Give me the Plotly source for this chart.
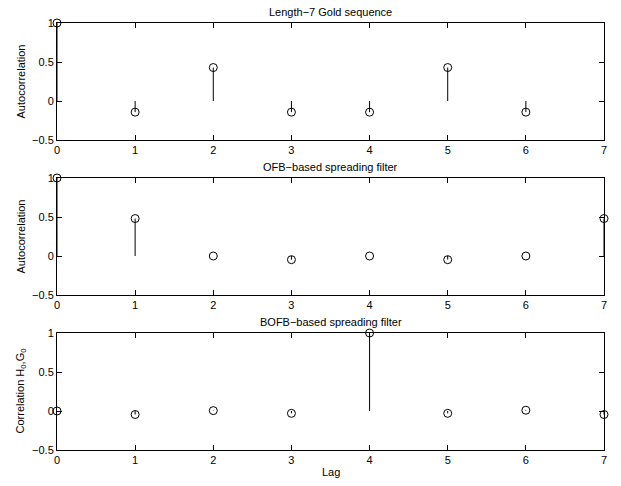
import plotly.graph_objects as go

lags = [0, 1, 2, 3, 4, 5, 6, 7]
gold_lags = [0, 1, 2, 3, 4, 5, 6]
gold_acf = [1.0, -0.143, 0.429, -0.143, -0.143, 0.429, -0.143]
ofb_acf = [1.0, 0.48, 0.0, -0.047, 0.0, -0.047, 0.0, 0.48]
bofb_xcorr = [0.0, -0.045, 0.005, -0.03, 1.0, -0.03, 0.01, -0.045]

titles = ["Length\u22127 Gold sequence", "OFB\u2212based spreading filter", "BOFB\u2212based spreading filter"]
ylabels = ["Autocorrelation", "Autocorrelation", "Correlation H<sub>0</sub>,G<sub>0</sub>"]
ytick_vals = [-0.5, 0, 0.5, 1]
ytick_text = ["\u22120.5", "0", "0.5", "1"]
xtick_vals = [0, 1, 2, 3, 4, 5, 6, 7]

W, H = 621, 486
x0px, x1px = 57, 604
rows_px = [(23, 140), (178, 295), (333, 450)]
FONT = "Liberation Sans, Arial, Helvetica, sans-serif"

series = [(gold_lags, gold_acf), (lags, ofb_acf), (lags, bofb_xcorr)]

fig = go.Figure()
layout = dict(width=W, height=H, margin=dict(l=0, r=0, t=0, b=0, autoexpand=False),
              paper_bgcolor="white", plot_bgcolor="white", showlegend=False,
              font=dict(family=FONT, size=11, color="black"))
annotations = []
for i, ((xs, ys), (top, bot)) in enumerate(zip(series, rows_px)):
    n = "" if i == 0 else str(i + 1)
    xa, ya = "x" + n, "y" + n
    sx, sy = [], []
    for x, y in zip(xs, ys):
        sx += [x, x, None]
        sy += [0, y, None]
    fig.add_trace(go.Scatter(x=sx, y=sy, mode="lines", line=dict(color="black", width=1),
                             xaxis=xa, yaxis=ya, hoverinfo="skip", cliponaxis=False))
    fig.add_trace(go.Scatter(x=xs, y=ys, mode="markers",
                             marker=dict(symbol="circle-open", size=8, color="black", line=dict(width=1)),
                             xaxis=xa, yaxis=ya, cliponaxis=False))
    dom_y = [1 - bot / H, 1 - top / H]
    layout["xaxis" + n] = dict(domain=[x0px / W, x1px / W], range=[0, 7], anchor=ya,
                               tickvals=xtick_vals, ticks="inside", ticklen=5, tickcolor="black",
                               showline=True, linecolor="black", linewidth=1, mirror="ticks",
                               showgrid=False, zeroline=False, automargin=False,
                               tickfont=dict(size=11, family=FONT))
    layout["yaxis" + n] = dict(domain=dom_y, range=[-0.5, 1], anchor=xa,
                               tickvals=ytick_vals, ticktext=ytick_text, ticks="inside", ticklen=5,
                               tickcolor="black", showline=True, linecolor="black", linewidth=1,
                               mirror="ticks", showgrid=False, zeroline=False, automargin=False,
                               tickfont=dict(size=11, family=FONT))
    annotations.append(dict(text=titles[i], x=(x0px + x1px) / 2 / W, y=1 - (top - 3) / H,
                            xref="paper", yref="paper", xanchor="center", yanchor="bottom",
                            showarrow=False, font=dict(size=11, family=FONT)))
    annotations.append(dict(text=ylabels[i], x=20 / W, y=1 - (top + bot) / 2 / H,
                            xref="paper", yref="paper", xanchor="center", yanchor="middle",
                            textangle=-90, showarrow=False, font=dict(size=11, family=FONT)))

annotations.append(dict(text="Lag", x=(x0px + x1px) / 2 / W, y=1 - 472 / H,
                        xref="paper", yref="paper", xanchor="center", yanchor="middle",
                        showarrow=False, font=dict(size=11, family=FONT)))
layout["annotations"] = annotations
fig.update_layout(**layout)
fig.write_html("out.html", config={"displayModeBar": False},
               post_script="document.body.style.margin='0px';")
